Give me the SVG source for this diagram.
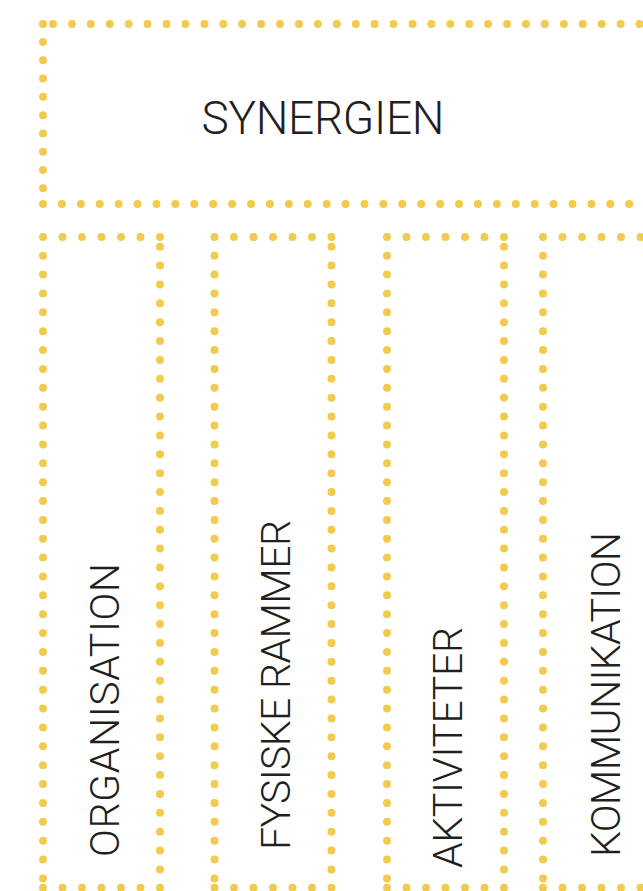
<svg xmlns="http://www.w3.org/2000/svg" width="643" height="891" viewBox="0 0 643 891">
  <style>
    .dot { fill: none; stroke: #F2CB4E; stroke-width: 8; stroke-linecap: round; }
    .h { stroke-dasharray: 0 19.5; }
    .v { stroke-dasharray: 0 18.87; }
    .lbl { font-family: Roboto, "Liberation Sans", sans-serif; font-weight: 300; fill: #231F20; }
    .vl { font-size: 41px; }
  </style>
  <rect width="643" height="891" fill="#FFFFFF"/>

  <g id="synergien">
    <path class="dot" d="M43 24 h0"/>
    <path class="dot" d="M53 24 H660" style="stroke-dasharray:0 18.92"/>
    <path class="dot" d="M43 42 V189" style="stroke-dasharray:0 18.29"/>
    <path class="dot" d="M43 204 H660" style="stroke-dasharray:0 18.91"/>
    <text class="lbl" x="323" y="134.3" font-size="46" text-anchor="middle" textLength="243" lengthAdjust="spacing">SYNERGIEN</text>
  </g>

  <g id="organisation">
    <path class="dot h" d="M43 237 H160.6"/>
    <path class="dot h" d="M43 887.7 H160.6"/>
    <path class="dot v" d="M43 255.7 V879"/>
    <path class="dot v" d="M160 246.7 V870"/>
    <text class="lbl vl" transform="translate(119,857) rotate(-90)" textLength="294" lengthAdjust="spacing">ORGANISATION</text>
  </g>

  <g id="fysiske-rammer">
    <path class="dot h" d="M214.5 237 H332.1"/>
    <path class="dot h" d="M214.5 887.7 H332.1"/>
    <path class="dot v" d="M214.5 255.7 V879"/>
    <path class="dot v" d="M331.5 246.7 V870"/>
    <text class="lbl vl" transform="translate(290,850) rotate(-90)" textLength="330" lengthAdjust="spacing">FYSISKE RAMMER</text>
  </g>

  <g id="aktiviteter">
    <path class="dot h" d="M387 237 H504.6"/>
    <path class="dot h" d="M387 887.7 H504.6"/>
    <path class="dot v" d="M387 255.7 V879"/>
    <path class="dot v" d="M504 246.7 V870"/>
    <text class="lbl vl" transform="translate(462,868) rotate(-90)" textLength="241" lengthAdjust="spacing">AKTIVITETER</text>
  </g>

  <g id="kommunikation">
    <path class="dot h" d="M543 237 H660.6"/>
    <path class="dot h" d="M543 887.7 H660.6"/>
    <path class="dot v" d="M543 255.7 V879"/>
    <text class="lbl vl" transform="translate(620,857) rotate(-90)" textLength="325" lengthAdjust="spacing">KOMMUNIKATION</text>
  </g>

  <g id="connectors"/>
</svg>
